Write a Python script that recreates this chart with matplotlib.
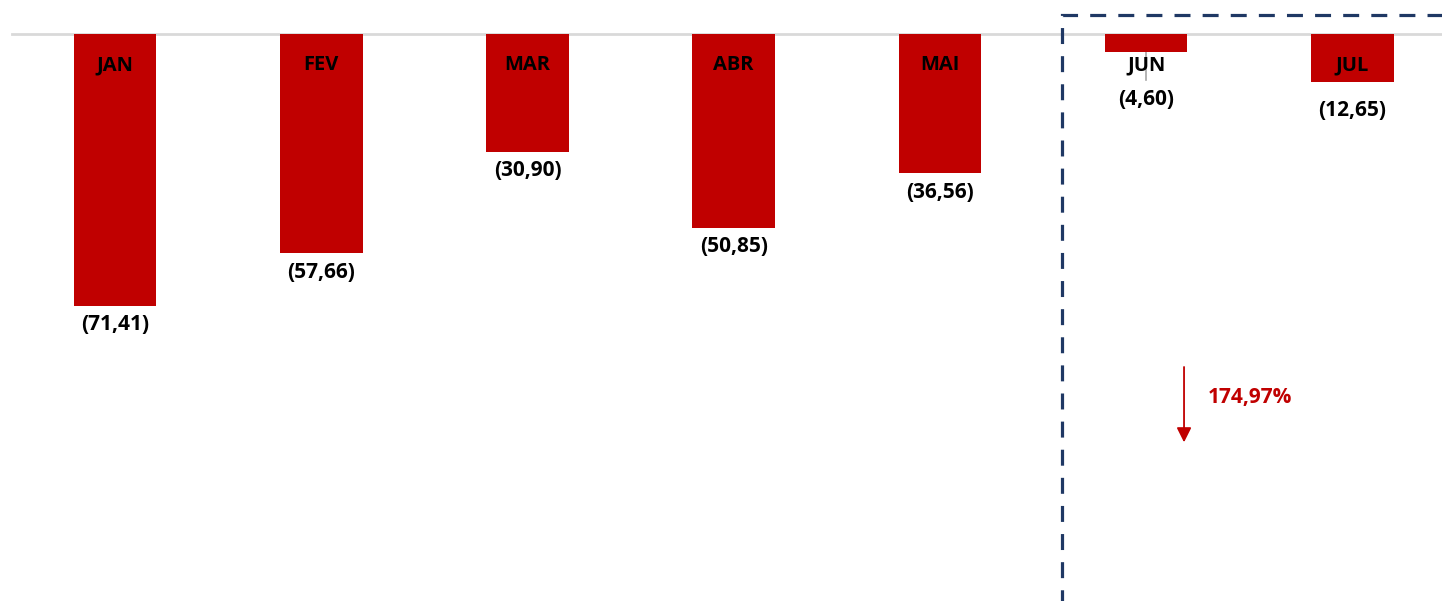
import matplotlib
matplotlib.use('Agg')
from matplotlib import pyplot as plt
from matplotlib.patches import Rectangle

meses = ['JAN', 'FEV', 'MAR', 'ABR', 'MAI', 'JUN', 'JUL']
valores = [-71.41, -57.66, -30.90, -50.85, -36.56, -4.60, -12.65]
rotulos = ['(71,41)', '(57,66)', '(30,90)', '(50,85)', '(36,56)', '(4,60)', '(12,65)']
variacao = '174,97%'

vermelho = '#C00000'
azul = '#1F3864'

plt.rcParams['font.family'] = ['Open Sans', 'DejaVu Sans']

fig = plt.figure(figsize=(14.42, 6.01), dpi=100)
ax = fig.add_axes([0, 0, 1, 1])

x = list(range(len(meses)))
ax.bar(x, valores, width=0.40, color=vermelho, zorder=2)

ax.set_xlim(-0.558, 6.435)
ax.set_ylim(-149.0, 8.94)
ax.axis('off')

# linha do zero
ax.axhline(0, xmin=12 / 1442, xmax=1, color='#D9D9D9', lw=2, zorder=1)

# nomes dos meses dentro das barras
for i, m in enumerate(meses):
    ax.text(i, -8.15, m, ha='center', va='center', fontsize=14.5,
            fontweight='bold', color='black', zorder=3)

# linha cinza do JUN
ax.plot([5, 5], [valores[5], -12.0], color='#A6A6A6', lw=1.2, zorder=1)

# valores abaixo das barras (JUN e JUL descem para não bater no mês)
for i, (v, r) in enumerate(zip(valores, rotulos)):
    if i == 5:
        y = -17.3
    elif i == 6:
        y = v - 7.4
    else:
        y = v - 5.0
    ax.text(i, y, r, ha='center', va='center', fontsize=15,
            fontweight='bold', color='black')

# caixa tracejada
ret = Rectangle((1062 / 1442, -0.1), 1.0, (601 - 15) / 601 + 0.1,
                transform=ax.transAxes, fill=False, edgecolor=azul,
                lw=2.3, ls=(0, (5.0, 3.8)), clip_on=True, zorder=4)
ax.add_patch(ret)

# seta de variação
ax.annotate('', xy=(5.184, -107.3), xytext=(5.184, -87.5),
            arrowprops=dict(arrowstyle='-|>', color=vermelho, lw=1.3,
                            mutation_scale=22, shrinkA=0, shrinkB=0))
ax.text(5.30, -95.6, variacao, ha='left', va='center', fontsize=15,
        fontweight='bold', color=vermelho)

fig.savefig('out.png', dpi=100, facecolor='white')
